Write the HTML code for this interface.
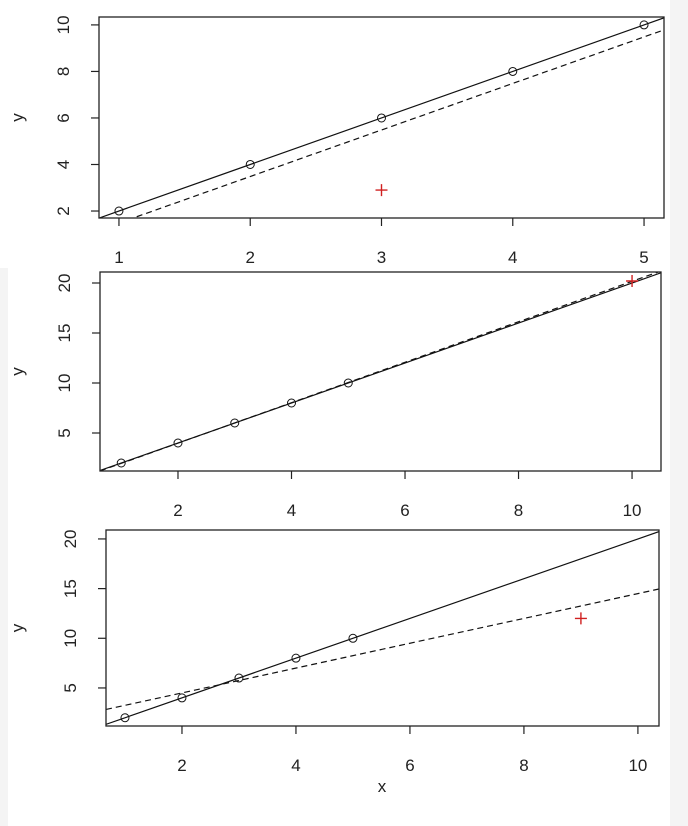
<!DOCTYPE html>
<html><head><meta charset="utf-8"><style>
body{margin:0;background:#fff}
svg{display:block;font-family:"Liberation Sans",sans-serif}
</style></head><body>
<svg id="c" width="688" height="826" xmlns="http://www.w3.org/2000/svg">
<rect x="0" y="0" width="688" height="826" fill="#fff"/>
<rect x="670" y="0" width="18" height="826" fill="#f4f4f4"/>
<rect x="0" y="268" width="8" height="558" fill="#f4f4f4"/>
<text x="382" y="792" font-size="17" text-anchor="middle" fill="#222">x</text>
</svg>
<script>
// panel data
const xs1 = [1,2,3,4,5];
const ys1 = [2,4,6,8,10];
const out1 = [3,2.9];
const xs2 = [1,2,3,4,5];
const ys2 = [2,4,6,8,10];
const out2 = [10,20.2];
const xs3 = [1,2,3,4,5];
const ys3 = [2,4,6,8,10];
const out3 = [9,12];
const xticks1 = [1,2,3,4,5];
const yticks1 = [2,4,6,8,10];
const xticks23 = [2,4,6,8,10];
const yticks23 = [5,10,15,20];

const NS="http://www.w3.org/2000/svg";
const svg=document.getElementById('c');
function mk(tag,attrs,parent){const e=document.createElementNS(NS,tag);for(const k in attrs)e.setAttribute(k,attrs[k]);(parent||svg).appendChild(e);return e;}
function fit(xs,ys){const n=xs.length;const mx=xs.reduce((a,b)=>a+b)/n,my=ys.reduce((a,b)=>a+b)/n;let sxy=0,sxx=0;for(let i=0;i<n;i++){sxy+=(xs[i]-mx)*(ys[i]-my);sxx+=(xs[i]-mx)**2;}const b=sxy/sxx;return [my-b*mx,b];}

function panel(id,box,xd,yd,xs,ys,out,xt,yt){
  const [L,T,R,B]=box;
  const sx=v=>L+(v-xd[0])/(xd[1]-xd[0])*(R-L);
  const sy=v=>B-(v-yd[0])/(yd[1]-yd[0])*(B-T);
  const g=mk('g',{});
  
  
  const cp=mk('clipPath',{id:id+'-clip'},g);mk('rect',{x:L,y:T,width:R-L,height:B-T},cp);
  const fx=xs.concat([out[0]]),fy=ys.concat([out[1]]);
  const [a,b]=fit(fx,fy);
  const [a0,b0]=fit(xs,ys);
  const cg=mk('g',{'clip-path':'url(#'+id+'-clip)'},g);
  const sl=mk('line',{x1:sx(xd[0]),y1:sy(a0+b0*xd[0]),x2:sx(xd[1]),y2:sy(a0+b0*xd[1]),stroke:'#111','stroke-width':1.2},cg);
  
  
  const dl=mk('line',{x1:sx(xd[0]),y1:sy(a+b*xd[0]),x2:sx(xd[1]),y2:sy(a+b*xd[1]),stroke:'#111','stroke-width':1.2,'stroke-dasharray':'6,4'},cg);
  
  
  xs.forEach((x,i)=>{
    const c=mk('circle',{cx:sx(x),cy:sy(ys[i]),r:4,fill:'none',stroke:'#111','stroke-width':1},g);
    
    
  });
  const ox=sx(out[0]),oy=sy(out[1]);
  const op=mk('path',{d:`M${ox-6},${oy}H${ox+6}M${ox},${oy-6}V${oy+6}`,stroke:'#d02020','stroke-width':1.4,fill:'none'},g);
  
  
  const fr=mk('rect',{x:L,y:T,width:R-L,height:B-T,fill:'none',stroke:'#222','stroke-width':1.3},g);
  
  
  xt.forEach(v=>{
    const x=sx(v);
    mk('line',{x1:x,y1:B,x2:x,y2:B+8,stroke:'#222','stroke-width':1.2},g);
    const t=mk('text',{x:x,y:B+45,'font-size':17,'text-anchor':'middle',fill:'#222'},g);t.textContent=v;
    
    
  });
  yt.forEach(v=>{
    const y=sy(v);
    mk('line',{x1:L-8,y1:y,x2:L,y2:y,stroke:'#222','stroke-width':1.2},g);
    const t=mk('text',{x:0,y:0,'font-size':17,'text-anchor':'middle',fill:'#222',transform:`translate(${L-30},${y}) rotate(-90)`},g);t.textContent=v;
    
    
  });
  const yl=mk('text',{x:0,y:0,'font-size':17,'text-anchor':'middle',fill:'#222',transform:`translate(23,${(T+B)/2}) rotate(-90)`},g);yl.textContent='y';
  
  
}
panel('panel-1',[99,17,664,218],[0.848,5.152],[1.70,10.34],xs1,ys1,out1,xticks1,yticks1);
panel('panel-2',[100,272,661,471],[0.626,10.51],[1.2,21.1],xs2,ys2,out2,xticks23,yticks23);
panel('panel-3',[106,530,659,726],[0.667,10.37],[1.17,20.9],xs3,ys3,out3,xticks23,yticks23);
</script>
</body></html>
